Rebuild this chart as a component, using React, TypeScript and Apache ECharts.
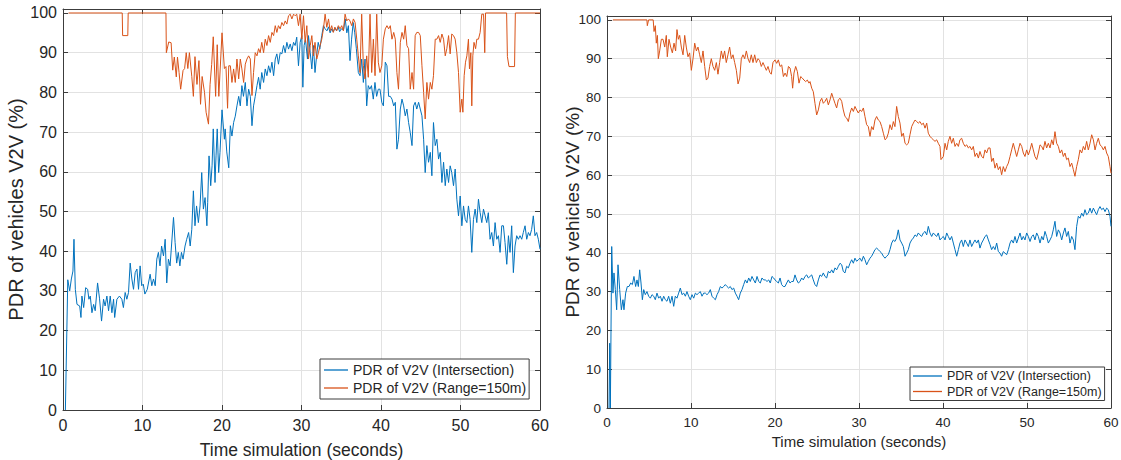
import React, { useEffect, useRef } from "react";
import * as echarts from "echarts";

const xTicks = [0, 10, 20, 30, 40, 50, 60];
const seriesNames = ["PDR of V2V (Intersection)", "PDR of V2V (Range=150m)"];
const xTitle = "Time simulation (seconds)";
const yTitle = "PDR of vehicles V2V (%)";

// Left panel: PDR of V2V (Intersection) [time s, PDR %]
const leftIntersection: [number, number][] = [
  [0.3,0],[0.6,32.8],[0.84,30],[1.05,33],[1.25,35],[1.38,43],[1.55,30.4],[1.76,26.6],[2.1,26.2],[2.26,23.3],[2.38,28.7],[2.6,25.8],[2.85,30.8],[3.1,30.4],[3.26,27.9],[3.43,28.7],[3.64,24.5],[3.85,26.6],[4.05,25],[4.35,32],[4.6,28],[4.85,22.4],[5.1,27.9],[5.3,26.2],[5.52,28.7],[5.73,25],[5.94,28.7],[6.15,24.5],[6.36,27.9],[6.5,23.3],[6.78,27.9],[7.1,28.7],[7.4,27.9],[7.6,25.8],[7.82,29.6],[8.03,27.9],[8.24,29.6],[8.45,37],[8.66,33],[8.87,30.4],[9.08,34.6],[9.3,35.5],[9.5,30.4],[9.7,36.3],[9.9,31.3],[10.1,31.7],[10.3,29.2],[10.6,30.4],[10.96,34.2],[11.17,31.3],[11.38,33],[11.6,31.3],[11.8,38],[12.0,39.7],[12.2,36.3],[12.4,41.3],[12.64,38.8],[12.85,43],[13.05,32],[13.26,38],[13.47,36.3],[13.9,48.5],[14.1,42.2],[14.3,37],[14.5,39.7],[14.7,36.3],[14.9,39.7],[15.1,38],[15.35,41.3],[15.56,43],[15.8,44.7],[16.0,41.3],[16.2,45.5],[16.4,55.2],[16.6,46.4],[16.8,51.4],[17.03,47.2],[17.24,51.4],[17.45,59.8],[17.66,50.6],[17.87,53.5],[18.1,46.4],[18.2,52.3],[18.37,64],[18.58,56.5],[18.75,61.5],[18.9,70.8],[19.12,57.3],[19.25,64],[19.4,70.8],[19.58,59.8],[19.75,64.9],[20.0,75.6],[20.3,68.2],[20.4,70.8],[20.6,65],[20.85,61],[21.05,71.6],[21.25,69],[21.46,72.4],[21.67,74],[21.88,76.6],[22.1,79],[22.3,76.6],[22.5,81.7],[22.7,79],[22.93,82.5],[23.14,76.6],[23.35,80.8],[23.56,79],[23.77,71.6],[23.97,76.6],[24.18,79],[24.4,81.7],[24.6,83.8],[24.8,80.8],[25.0,85],[25.23,82.5],[25.44,85.9],[25.65,84.2],[25.86,86.7],[26.07,85],[26.28,87.6],[26.49,84.2],[26.7,88.4],[26.9,89.7],[27.1,87.1],[27.32,90],[27.53,89.7],[27.74,91.8],[27.95,90],[28.16,92.6],[28.37,90.9],[28.58,92.2],[28.79,90.5],[29.0,92.6],[29.2,91.8],[29.4,93.9],[29.62,86.7],[29.83,92.6],[30.04,94.3],[30.17,81.3],[30.33,91.8],[30.5,93.4],[30.75,88.4],[30.88,94.3],[31.1,90],[31.3,85.9],[31.5,91.8],[31.7,85],[31.9,89.2],[32.1,92.6],[32.3,90.9],[32.55,94.3],[32.76,96.8],[32.97,96],[33.2,95.5],[33.4,96.5],[33.6,95],[33.8,96],[34.0,95.2],[34.2,96.3],[34.4,95.5],[34.6,96.5],[34.8,95.3],[35.0,96],[35.3,95.8],[35.5,98.5],[35.7,95],[35.9,96.8],[36.1,88],[36.3,93.4],[36.5,97.6],[36.7,95],[36.9,91],[37.15,85],[37.36,84.2],[37.57,88.4],[37.78,82.5],[37.99,88.4],[38.2,76.6],[38.4,81.7],[38.6,80.8],[38.8,81.7],[39.03,78.3],[39.24,82.5],[39.45,79],[39.66,80.8],[39.87,80.8],[40.1,77.5],[40.3,76.6],[40.54,87.6],[40.75,86.7],[40.96,79],[41.17,79],[41.38,78.3],[41.6,76.6],[41.8,77.5],[42.0,65.7],[42.2,68.2],[42.43,75.8],[42.64,78.3],[42.85,76.6],[43.05,74.1],[43.26,75.8],[43.47,72.4],[43.68,69.9],[43.9,66.6],[44.1,76.6],[44.3,77.5],[44.5,75.8],[44.73,77.5],[44.94,75.8],[45.15,74.1],[45.36,68.2],[45.56,59.8],[45.77,66.6],[45.98,62.4],[46.2,64.9],[46.4,59],[46.6,72.4],[46.82,66.6],[47.03,68.2],[47.24,63.2],[47.45,64.9],[47.66,57.3],[47.87,62.4],[48.08,56.5],[48.28,60.7],[48.5,57.3],[48.7,61.5],[48.9,59.8],[49.12,56.5],[49.33,60.7],[49.54,53.1],[49.75,48.9],[49.96,53.9],[50.17,46.4],[50.38,51.4],[50.59,48],[50.8,47.2],[51.0,51.4],[51.21,48],[51.42,39.7],[51.63,48],[51.84,50.6],[52.05,47.2],[52.26,53.1],[52.47,49.7],[52.68,47.2],[52.89,50.6],[53.1,48.9],[53.3,47.2],[53.5,49.7],[53.72,43],[53.93,44.7],[54.14,41.3],[54.35,47.2],[54.56,43],[54.77,43.9],[54.98,39.7],[55.19,46.4],[55.4,46.4],[55.6,42.2],[55.82,36.7],[56.03,43.9],[56.23,39.7],[56.44,46.4],[56.65,34.6],[56.86,41.3],[57.07,43.9],[57.28,43],[57.49,43.9],[57.7,43],[57.9,44.7],[58.12,46.4],[58.33,43],[58.54,44.7],[58.74,43.9],[58.95,45.5],[59.16,48.9],[59.37,43.9],[59.58,44.7],[59.79,43],[60,40.5]
];

// Left panel: PDR of V2V (Range=150m)
const leftRange: [number, number][] = [
  [0.7,100],[7.45,100],[7.5,94.3],[8.15,94.3],[8.2,100],[12.95,100],[13.0,90],[13.3,92.7],[13.6,92.5],[13.8,85.6],[14.0,88.9],[14.25,83.9],[14.4,88.9],[14.6,85],[14.8,80.8],[15.1,85.5],[15.3,86],[15.5,90],[15.7,86],[15.9,90],[16.2,84],[16.4,79],[16.6,89],[16.85,82],[17.1,88],[17.3,77],[17.5,84],[17.8,80],[18.0,75],[18.3,72],[18.5,82],[18.7,87],[18.9,94],[19.2,79],[19.4,92],[19.6,79],[20.0,95],[20.3,86],[20.5,86.5],[20.7,76],[20.85,86.7],[21.05,86.7],[21.25,82.5],[21.46,85.9],[21.67,82.5],[21.88,88.4],[22.1,83.4],[22.3,88.4],[22.5,85.9],[22.72,82.5],[22.93,87.1],[23.14,88.4],[23.35,89.2],[23.56,88.4],[23.77,79.2],[23.97,85],[24.18,90],[24.4,89.2],[24.6,91],[24.8,90],[25.0,92.6],[25.23,90],[25.44,93.4],[25.65,91.8],[25.86,94.3],[26.07,92.6],[26.28,95.1],[26.49,94.3],[26.7,96.8],[26.9,95.1],[27.1,96.8],[27.32,96],[27.53,97.6],[27.74,96.8],[27.95,98],[28.16,97.2],[28.37,99.3],[28.58,99.7],[28.79,98.5],[29.0,99.7],[29.2,99.3],[29.4,99.7],[29.62,96.8],[29.83,99.7],[30.04,93.4],[30.25,99.3],[30.46,92.6],[30.67,96.8],[30.88,88.4],[31.1,91.8],[31.3,94.3],[31.5,89.2],[31.7,92.6],[31.92,88.4],[32.13,90],[32.34,91.8],[32.55,93.4],[32.76,96],[32.97,99.7],[33.18,96.4],[33.4,98.5],[33.6,95.5],[33.8,96.8],[34.0,95.1],[34.2,96.4],[34.43,95.5],[34.64,96.8],[34.85,96],[35.06,96.8],[35.27,95.5],[35.48,99.7],[35.69,98],[35.9,98.5],[36.1,98],[36.32,96.8],[36.53,98.5],[36.74,97.6],[36.95,93.4],[37.15,89.2],[37.36,85],[37.57,99.7],[37.78,86.7],[37.99,83.4],[38.2,89.2],[38.4,83.8],[38.62,99.7],[38.83,85],[39.04,93.4],[39.25,84.2],[39.46,99.7],[39.66,87.6],[39.87,85],[40.1,86.7],[40.3,93.4],[40.54,96],[40.75,96.8],[40.96,96],[41.17,96.8],[41.38,93.4],[41.6,95.1],[41.8,93.4],[42.0,85],[42.2,80.8],[42.43,92.6],[42.64,95.1],[42.85,93.4],[43.05,96.8],[43.26,91.8],[43.47,91],[43.68,80.8],[43.9,85],[44.1,80.8],[44.3,94.3],[44.5,95.1],[44.73,95.1],[44.94,94.3],[45.15,86.7],[45.36,80],[45.56,73.3],[45.77,82.5],[45.98,78.3],[46.2,82.5],[46.4,80.8],[46.6,84.2],[46.82,93.4],[47.03,93.4],[47.24,94.3],[47.45,92.6],[47.66,94.7],[47.87,93.4],[48.08,89.2],[48.28,91],[48.5,94.3],[48.7,89.7],[48.9,94.7],[49.12,94.3],[49.33,93.4],[49.54,90],[49.75,85],[49.96,75],[50.17,78.3],[50.3,75],[50.46,84.2],[50.63,87.6],[50.8,89.2],[51.0,93.4],[51.13,85.9],[51.3,90],[51.42,76.6],[51.55,89.2],[51.7,92.6],[51.9,91],[52.05,93.4],[52.26,93.4],[52.47,95.1],[52.68,99.7],[52.9,99.7],[53.05,90],[53.15,100],[55.8,100],[55.9,89],[56.1,86.5],[56.8,86.5],[56.9,100],[60,100]
];

// Right panel: PDR of V2V (Intersection)
const rightIntersection: [number, number][] = [
  [0.24,0],[0.32,16.7],[0.4,0],[0.56,41.6],[0.71,29.6],[0.83,34.8],[0.99,30.5],[1.15,25.3],[1.31,36.9],[1.51,30.5],[1.71,25.3],[1.9,27.9],[2.02,25.3],[2.22,29.6],[2.42,31.3],[2.62,31.3],[2.82,32.2],[3.02,31.8],[3.21,33.9],[3.41,31.3],[3.57,33],[3.73,31.3],[3.89,35.6],[4.05,32.2],[4.21,27.9],[4.37,30.5],[4.56,29.2],[4.76,30],[4.96,28.8],[5.16,28.3],[5.36,29.2],[5.56,28.8],[5.75,27.9],[5.95,29.6],[6.15,28.3],[6.35,28.8],[6.55,27.5],[6.75,28.8],[6.94,27.9],[7.14,27.5],[7.34,28.8],[7.54,27],[7.74,28.8],[7.94,26.2],[8.13,28.8],[8.33,28.3],[8.53,29.6],[8.73,30.9],[8.93,29.2],[9.13,29.6],[9.33,28.8],[9.52,30],[9.72,28.8],[9.92,27.9],[10.12,29.2],[10.32,28.3],[10.52,29.6],[10.71,29.2],[10.91,29.6],[11.11,30],[11.31,28.8],[11.51,29.6],[11.71,29.6],[11.9,29.2],[12.1,29.6],[12.3,30.5],[12.5,28.8],[12.7,28.3],[12.9,27.9],[13.1,29.2],[13.29,30],[13.49,31.3],[13.69,30.9],[13.89,31.3],[14.09,31.8],[14.29,31.3],[14.48,30.9],[14.68,31.3],[14.88,30.5],[15.08,30.9],[15.28,29.6],[15.48,28.8],[15.67,27.9],[15.87,29.6],[16.07,30.5],[16.27,31.8],[16.47,33],[16.67,32.2],[16.87,33.5],[17.06,32.6],[17.26,33.9],[17.46,33],[17.66,32.2],[17.86,33.9],[18.06,32.6],[18.25,32.2],[18.45,33.5],[18.65,33],[18.85,33],[19.05,32.6],[19.25,33],[19.44,32.2],[19.64,33.9],[19.84,33.5],[20.0,33],[20.2,32.6],[20.4,32.2],[20.6,33.5],[20.79,31.8],[20.99,31.3],[21.19,31.3],[21.39,32.2],[21.59,33],[21.79,32.2],[21.98,32.6],[22.18,32.6],[22.38,34.3],[22.58,33],[22.78,32.2],[22.98,32.6],[23.17,33.5],[23.37,33],[23.57,33.9],[23.77,34.3],[23.97,33.5],[24.17,33.9],[24.37,34.3],[24.56,33],[24.76,31.8],[24.96,31.3],[25.16,33],[25.36,34.3],[25.56,33.9],[25.75,34.8],[25.95,33.9],[26.15,33.5],[26.35,35.2],[26.55,34.8],[26.75,35.6],[26.94,34.8],[27.14,36.1],[27.34,35.6],[27.54,36.5],[27.74,37.3],[27.94,36.9],[28.13,35.2],[28.33,34.8],[28.53,36.5],[28.73,36.1],[28.93,37.3],[29.13,38.2],[29.33,37.3],[29.52,38.6],[29.72,37.8],[29.92,38.2],[30.12,38.6],[30.32,37.8],[30.52,39.1],[30.71,38.2],[30.91,36.9],[31.11,37.8],[31.31,38.6],[31.5,39.1],[31.7,39.9],[31.9,40.8],[32.1,41.2],[32.3,40.8],[32.5,40.3],[32.7,39.9],[32.9,39.1],[33.1,38.6],[33.29,39.1],[33.49,39.5],[33.69,40.8],[33.89,42.5],[34.09,43.3],[34.28,42.9],[34.48,43.8],[34.68,45.9],[34.88,43.3],[35.08,42.5],[35.28,41.6],[35.48,39.1],[35.67,39.9],[35.87,40.8],[36.07,42.5],[36.27,43.3],[36.47,43.8],[36.67,44.6],[36.87,44.2],[37.06,45.1],[37.26,44.6],[37.46,44.2],[37.66,45.1],[37.86,45.5],[38.06,44.6],[38.25,46.8],[38.45,45.1],[38.65,44.2],[38.85,45.1],[39.05,44.6],[39.25,44.2],[39.44,45.1],[39.64,43.3],[39.84,43.8],[40.04,44.2],[40.24,43.3],[40.44,45.1],[40.63,44.2],[40.83,43.3],[41.03,44.2],[41.23,42.5],[41.43,40.8],[41.63,39.1],[41.83,40.8],[42.02,42.5],[42.22,43.3],[42.42,41.6],[42.62,43.3],[42.82,42.5],[43.02,41.6],[43.21,43.3],[43.41,41.6],[43.61,42.5],[43.81,43.3],[44.01,42.5],[44.21,43.3],[44.4,41.2],[44.6,42.5],[44.8,43.3],[45.0,44.2],[45.2,44.6],[45.4,43.3],[45.6,42.1],[45.79,40.8],[45.99,41.6],[46.19,40.8],[46.39,42.5],[46.59,40.3],[46.79,39.9],[46.98,39.1],[47.18,40.3],[47.38,39.9],[47.58,39.5],[47.78,40.8],[47.98,42.5],[48.17,43.3],[48.37,42.5],[48.57,44.2],[48.77,42.5],[48.97,43.8],[49.17,45.1],[49.37,43.3],[49.56,44.2],[49.76,43.3],[49.96,45.1],[50.16,44.2],[50.36,42.9],[50.56,44.2],[50.75,44.6],[50.95,43.3],[51.15,45.1],[51.35,44.2],[51.55,42.5],[51.75,44.2],[51.94,43.3],[52.14,45.5],[52.34,44.2],[52.54,42.5],[52.74,43.3],[52.94,44.2],[53.13,45.9],[53.33,48.1],[53.53,44.2],[53.73,45.9],[53.93,45.1],[54.13,43.3],[54.33,45.1],[54.52,46.4],[54.72,44.2],[54.92,45.5],[55.12,42.5],[55.32,44.2],[55.52,43.3],[55.71,40.8],[55.91,46.8],[56.11,49.4],[56.31,48.9],[56.51,50.2],[56.71,49.4],[56.9,51.1],[57.1,49.8],[57.3,50.2],[57.5,51.5],[57.7,50.2],[57.9,51.5],[58.1,50.6],[58.29,49.8],[58.49,51.1],[58.69,51.9],[58.89,51.1],[59.09,51.5],[59.29,50.6],[59.48,51.5],[59.68,51.1],[59.88,49.4],[60,46.8]
];

// Right panel: PDR of V2V (Range=150m)
const rightRange: [number, number][] = [
  [0.7,100],[4.75,100],[4.8,98.5],[4.95,100],[5.5,100],[5.6,97],[5.75,98.5],[5.87,94],[6.0,96],[6.11,90],[6.27,92],[6.47,95],[6.67,95],[6.87,93],[7.06,96],[7.18,90.5],[7.38,95],[7.58,93],[7.78,91.5],[7.98,94],[8.17,92],[8.33,97.5],[8.49,95],[8.65,96],[8.85,93],[9.05,91],[9.25,96],[9.44,93],[9.64,90.5],[9.84,91.5],[10.04,87],[10.24,90],[10.44,94],[10.64,92],[10.83,93],[11.03,91],[11.23,89],[11.43,92],[11.63,88],[11.83,84.5],[12.02,85],[12.22,88],[12.42,90],[12.62,88],[12.82,87],[13.02,89],[13.21,86],[13.41,89],[13.61,92],[13.81,90],[14.0,92],[14.2,89],[14.4,91],[14.6,93],[14.8,90],[15.0,91],[15.2,89],[15.4,87],[15.6,83.5],[15.8,85],[15.99,90],[16.19,91],[16.39,90],[16.59,92],[16.79,90],[16.98,89],[17.18,91],[17.38,89],[17.58,91],[17.78,89],[17.98,90],[18.17,89.5],[18.37,88],[18.57,89],[18.77,88],[18.97,87],[19.17,88],[19.37,86.5],[19.56,86],[19.76,89],[20.0,89.7],[20.2,88.8],[20.4,89.7],[20.6,88],[20.8,88.4],[21.0,85.4],[21.2,86.3],[21.4,85.4],[21.6,88],[21.79,87.6],[21.98,85.4],[22.1,82.4],[22.26,86.3],[22.46,88],[22.66,86.7],[22.86,83.7],[23.06,85.4],[23.25,85],[23.45,84.5],[23.65,84.1],[23.85,84.5],[24.05,83.7],[24.17,84.1],[24.37,82.4],[24.56,81.5],[24.76,78.5],[24.96,75.5],[25.16,76.8],[25.36,79],[25.56,79.8],[25.75,78.5],[25.95,79],[26.15,79.8],[26.35,78.1],[26.55,79.4],[26.75,81.1],[26.94,79.8],[27.14,78.5],[27.34,77.3],[27.54,79.4],[27.74,79.8],[27.94,79],[28.13,76.8],[28.33,75.1],[28.53,74.7],[28.73,73.8],[28.93,76],[29.13,77.3],[29.33,76.4],[29.52,77.7],[29.72,76.8],[29.92,76],[30.12,76.8],[30.32,76.4],[30.52,77.3],[30.71,75.1],[30.91,73],[31.11,72.5],[31.31,70],[31.5,72.5],[31.7,71.7],[31.9,74.2],[32.1,75.1],[32.3,74.2],[32.5,73.8],[32.7,72.5],[32.9,70.8],[33.1,69.1],[33.29,69.5],[33.49,70.8],[33.69,73],[33.89,71.7],[34.09,73.8],[34.28,72.5],[34.48,77.7],[34.68,75.1],[34.88,73.4],[35.08,70],[35.28,70.8],[35.48,68.2],[35.67,67.8],[35.87,68.2],[36.07,70.4],[36.27,72.5],[36.47,73.4],[36.67,74.2],[36.87,73.8],[37.06,73.4],[37.26,73.8],[37.46,73],[37.66,73.4],[37.86,72.1],[38.06,73.4],[38.25,70.8],[38.45,70],[38.65,69.5],[38.85,69.1],[39.05,68.7],[39.25,69.1],[39.44,68.2],[39.64,67.4],[39.76,64],[40.04,64.8],[40.24,68.2],[40.44,66.5],[40.63,68.7],[40.83,70],[41.03,68.2],[41.23,69.5],[41.43,67.4],[41.63,68.2],[41.83,67.4],[42.02,69.1],[42.22,69.5],[42.42,68.2],[42.62,67.4],[42.82,67.8],[43.02,67],[43.21,67.4],[43.41,66.5],[43.61,67.4],[43.81,64.8],[44.01,65.7],[44.21,64.4],[44.4,66.1],[44.6,64.8],[44.8,64.4],[45.0,66.5],[45.2,65.7],[45.4,67],[45.6,67],[45.79,63.5],[45.99,64.4],[46.19,61.8],[46.39,63.1],[46.59,61.4],[46.79,62.2],[46.98,60.1],[47.18,62.2],[47.38,60.9],[47.58,62.2],[47.78,63.1],[47.98,64.8],[48.17,66.5],[48.37,68.2],[48.57,66.5],[48.77,64.8],[48.97,66.5],[49.17,68.2],[49.37,67.4],[49.56,65.7],[49.76,64.8],[49.96,66.5],[50.16,65.2],[50.36,66.5],[50.56,68.2],[50.75,66.5],[50.95,64.8],[51.15,64],[51.35,65.7],[51.55,67.8],[51.75,67.4],[51.94,66.5],[52.14,68.7],[52.34,67],[52.54,68.2],[52.74,67],[52.94,69.1],[53.13,67.8],[53.33,71.2],[53.53,68.2],[53.73,67.4],[53.93,65.7],[54.13,66.5],[54.33,64.8],[54.52,65.7],[54.72,64],[54.92,64.4],[55.12,62.2],[55.32,63.1],[55.52,61.4],[55.71,59.7],[55.91,62.2],[56.11,64],[56.31,66.5],[56.51,65.7],[56.71,67.4],[56.9,66.5],[57.1,68.7],[57.3,66.5],[57.5,68.2],[57.7,70.4],[57.9,69.1],[58.1,66.5],[58.29,68.2],[58.49,69.5],[58.69,67.8],[58.89,67.4],[59.09,66.5],[59.29,67.4],[59.48,65.7],[59.68,64.8],[59.88,62.2],[60,60.5]
];

const BLUE = "#0072BD";
const ORANGE = "#D95319";
const AXIS = "#3c3c3c";
const TEXT = "#262626";
const GRID = "#e2e2e2";
const FONT = "'Liberation Sans', Arial, Helvetica, sans-serif";

function panelAxes(grid: number, tickSize: number, xNameSize: number, yNameSize: number, xGap: number, yGap: number, yMove: boolean) {
  const line = { show: true, lineStyle: { color: AXIS, width: 1 } };
  const tick = { show: true, inside: true, length: 5, lineStyle: { color: AXIS } };
  const x = [
    {
      type: "value", gridIndex: grid, min: xTicks[0], max: xTicks[xTicks.length - 1], interval: 10,
      position: "bottom", axisLine: { ...line, onZero: false }, axisTick: tick,
      axisLabel: { color: TEXT, fontSize: tickSize, fontFamily: FONT, margin: 7 },
      splitLine: { show: true, lineStyle: { color: GRID, width: 1 } },
      name: xTitle, nameLocation: "middle", nameGap: xGap,
      nameTextStyle: { color: TEXT, fontSize: xNameSize, fontFamily: FONT },
    },
    {
      type: "value", gridIndex: grid, min: 0, max: 60, interval: 10, position: "top",
      axisLine: { ...line, onZero: false }, axisTick: tick, axisLabel: { show: false }, splitLine: { show: false },
    },
  ];
  const y = [
    {
      type: "value", gridIndex: grid, min: 0, max: 101, interval: 10, position: "left",
      axisLine: { ...line, onZero: false }, axisTick: tick,
      axisLabel: { color: TEXT, fontSize: tickSize, fontFamily: FONT, margin: 6, showMaxLabel: false },
      splitLine: { show: true, lineStyle: { color: GRID, width: 1 } },
      name: yTitle, nameLocation: "middle", nameGap: yGap, nameRotate: 90, nameMoveOverlap: yMove,
      nameTextStyle: { color: TEXT, fontSize: yNameSize, fontFamily: FONT },
    },
    {
      type: "value", gridIndex: grid, min: 0, max: 101, interval: 10, position: "right",
      axisLine: { ...line, onZero: false }, axisTick: tick, axisLabel: { show: false }, splitLine: { show: false },
    },
  ];
  return { x, y };
}

export default function App() {
  const ref = useRef<HTMLDivElement>(null);
  useEffect(() => {
    if (!ref.current) return;
    const chart = echarts.init(ref.current, undefined, { renderer: "svg" });
    const L = panelAxes(0, 16, 17.5, 20, 31, 35, true);
    const R = panelAxes(1, 13.5, 15, 19, 24, 25, false);
    const mkSeries = (name: string, data: [number, number][], color: string, xi: number, yi: number) => ({
      type: "line", name, data, xAxisIndex: xi, yAxisIndex: yi, symbol: "none", showSymbol: false,
      lineStyle: { color, width: 1 }, itemStyle: { color }, emphasis: { disabled: true },
    });
    chart.setOption({
      animation: false,
      backgroundColor: "#ffffff",
      grid: [
        { left: 63, top: 9, width: 477, height: 401, outerBoundsMode: "none", containLabel: false },
        { left: 607, top: 16, width: 504, height: 392, outerBoundsMode: "none", containLabel: false },
      ],
      xAxis: [...L.x, ...R.x],
      yAxis: [...L.y, ...R.y],
      legend: [
        {
          left: 320, top: 359, orient: "vertical", data: seriesNames,
          icon: "rect", itemWidth: 24, itemHeight: 1.3, itemGap: 2,
          padding: [3, 3, 3, 4],
          borderColor: AXIS, borderWidth: 1, backgroundColor: "#ffffff",
          textStyle: { color: TEXT, fontSize: 14, fontFamily: FONT, lineHeight: 16 },
          selectedMode: false,
        },
        {
          left: 910, top: 367, orient: "vertical", data: seriesNames,
          icon: "rect", itemWidth: 29, itemHeight: 1.3, itemGap: 1.5,
          padding: [2, 3, 2, 3],
          borderColor: AXIS, borderWidth: 1, backgroundColor: "#ffffff",
          textStyle: { color: TEXT, fontSize: 12.5, fontFamily: FONT, lineHeight: 14 },
          selectedMode: false,
        },
      ],
      series: [
        mkSeries(seriesNames[0], leftIntersection, BLUE, 0, 0),
        mkSeries(seriesNames[1], leftRange, ORANGE, 0, 0),
        mkSeries(seriesNames[0], rightIntersection, BLUE, 2, 2),
        mkSeries(seriesNames[1], rightRange, ORANGE, 2, 2),
      ],
    });
    return () => chart.dispose();
  }, []);
  return <div ref={ref} style={{ position: "absolute", left: 0, top: 0, width: 1121, height: 460 }} />;
}
